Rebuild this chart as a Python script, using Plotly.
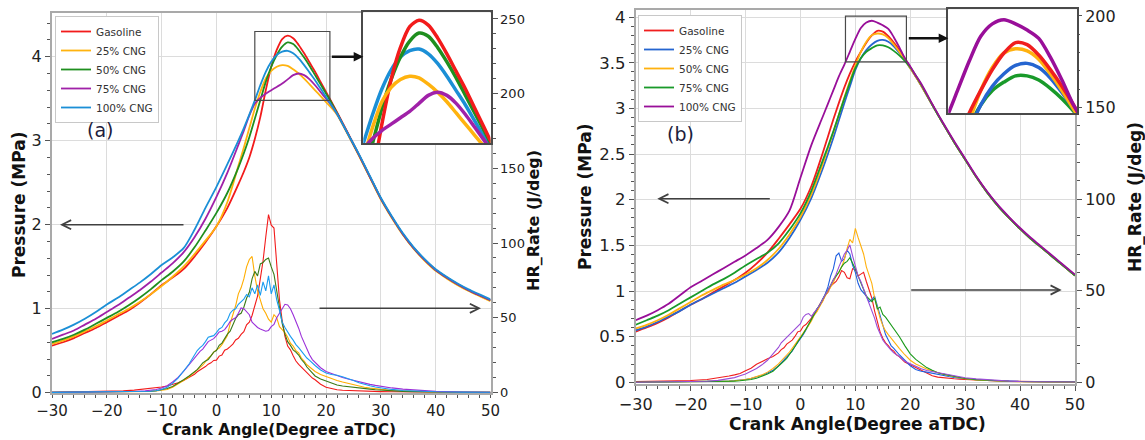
import plotly.graph_objects as go

W, H = 1145, 440
def px(x): return x / W
def py(y): return 1 - y / H

# ---------------- data ----------------
fuels = ["Gasoline", "25% CNG", "50% CNG", "75% CNG", "100% CNG"]

ca_p = [-30, -28, -26, -24, -22, -20, -18, -16, -14, -12, -10, -8, -6, -4, -2,
        0, 2, 4,
        5, 6, 7, 8, 9, 10, 11, 12, 13, 14, 15, 16, 17, 18, 19, 20, 21,
        22, 24, 26, 28, 30, 32, 34, 36, 38, 40, 42, 44, 46, 48, 50]

ca_h = [-30, -25, -20, -17, -15, -13, -12, -11, -10, -9, -8, -7, -6, -5,
        -4, -3.5, -3, -2.5, -2, -1.5, -1, -0.5, 0, 0.5, 1, 1.5, 2, 2.5, 3, 3.5, 4, 4.5, 5, 5.5,
        6, 6.5, 7, 7.5, 8, 8.5, 9, 9.5, 10, 10.5, 11, 11.5, 12, 12.5, 13, 13.5, 14, 14.5, 15, 15.5,
        16, 16.5, 17, 17.5, 18,
        19, 20, 21, 22, 23, 24, 25, 26, 27, 28, 29, 30,
        32, 34, 36, 38, 40, 45, 50]

# Panel (a) pressure, MPa
pa_gasoline = [0.56, 0.60, 0.65, 0.71, 0.77, 0.84, 0.91, 0.98, 1.07, 1.17, 1.28, 1.37, 1.47, 1.62, 1.79,
               1.98, 2.20, 2.48,
               2.63, 2.80, 3.02, 3.28, 3.60, 3.88, 4.08, 4.21, 4.25, 4.22, 4.14, 4.04, 3.93, 3.82, 3.70, 3.58, 3.46,
               3.34, 3.09, 2.83, 2.57, 2.31, 2.09, 1.89, 1.72, 1.58, 1.46, 1.37, 1.29, 1.22, 1.16, 1.10]
pa_cng25 = [0.58, 0.62, 0.67, 0.73, 0.79, 0.86, 0.93, 1.00, 1.08, 1.17, 1.27, 1.38, 1.50, 1.65, 1.81,
            1.98, 2.27, 2.70,
            2.92, 3.15, 3.38, 3.58, 3.74, 3.83, 3.88, 3.90, 3.89, 3.85, 3.80, 3.74, 3.67, 3.60, 3.53, 3.46, 3.39,
            3.31, 3.07, 2.82, 2.56, 2.30, 2.08, 1.88, 1.71, 1.57, 1.45, 1.36, 1.28, 1.21, 1.15, 1.09]
pa_cng50 = [0.60, 0.64, 0.69, 0.75, 0.82, 0.89, 0.96, 1.04, 1.13, 1.23, 1.34, 1.44, 1.56, 1.73, 1.93,
            2.14, 2.38, 2.68,
            2.85, 3.04, 3.26, 3.48, 3.70, 3.88, 4.02, 4.12, 4.17, 4.15, 4.08, 3.99, 3.89, 3.78, 3.67, 3.56, 3.45,
            3.33, 3.08, 2.83, 2.57, 2.31, 2.09, 1.89, 1.72, 1.58, 1.46, 1.37, 1.29, 1.22, 1.16, 1.10]
pa_cng75 = [0.64, 0.69, 0.74, 0.81, 0.88, 0.96, 1.04, 1.13, 1.22, 1.32, 1.43, 1.54, 1.67, 1.85, 2.07,
            2.33, 2.62, 2.95,
            3.12, 3.30, 3.44, 3.51, 3.56, 3.60, 3.64, 3.68, 3.73, 3.78, 3.80, 3.78, 3.73, 3.66, 3.58, 3.50, 3.42,
            3.32, 3.08, 2.83, 2.57, 2.31, 2.09, 1.89, 1.72, 1.58, 1.46, 1.37, 1.29, 1.22, 1.16, 1.10]
pa_cng100 = [0.70, 0.75, 0.81, 0.88, 0.96, 1.05, 1.13, 1.22, 1.31, 1.41, 1.52, 1.61, 1.72, 1.94, 2.20,
             2.45, 2.72, 3.00,
             3.15, 3.31, 3.48, 3.66, 3.82, 3.94, 4.02, 4.06, 4.07, 4.04, 3.98, 3.90, 3.81, 3.72, 3.62, 3.52, 3.42,
             3.32, 3.08, 2.84, 2.58, 2.32, 2.10, 1.90, 1.73, 1.59, 1.47, 1.38, 1.30, 1.23, 1.17, 1.11]

# Panel (a) heat release rate, J/deg
ha_gasoline = [0.1, 0.3, 0.6, 1.0, 1.5, 2.2, 2.6, 3.0, 3.6, 4.3, 5.2, 6.5, 8.0, 10.0,
               12.2, 13.8, 14.9, 16.4, 17.3, 18.9, 19.8, 21.4, 21.6, 24.3, 25.0, 28.2, 29.1, 30.6, 32.3,
               35.1, 36.2, 38.8, 40.6, 45.2, 47.0, 51.5, 58.0, 64.5, 76.0, 88.0, 104.0, 119.0, 112.0, 110.0,
               86.0, 62.0, 48.0, 37.5, 31.0, 28.5, 24.5, 21.0, 18.8, 17.0, 15.0, 12.8, 11.5, 9.6, 8.5,
               5.5, 3.5, 2.4, 1.8, 1.4, 1.2, 1.0, 0.9, 0.8, 0.7, 0.6, 0.5,
               0.4, 0.3, 0.2, 0.2, 0.1, 0.1, 0.0]
ha_cng25 = [0.0, 0.1, 0.2, 0.3, 0.4, 0.6, 0.7, 0.9, 1.2, 2.0, 3.5, 5.5, 8.0, 10.5,
            13.5, 15.6, 17.0, 18.2, 20.5, 23.0, 24.5, 27.0, 28.5, 29.6, 32.0, 35.5, 38.0, 46.0, 52.0,
            58.0, 66.0, 70.0, 76.0, 84.0, 89.0, 91.0, 78.0, 68.0, 62.0, 56.0, 53.0, 49.0, 47.0, 52.0,
            50.0, 44.0, 42.0, 40.0, 37.0, 33.0, 31.0, 28.0, 26.5, 23.0, 21.0, 18.5, 17.0, 15.2, 14.0,
            12.0, 10.5, 9.0, 8.0, 7.0, 6.0, 5.0, 4.2, 3.5, 2.9, 2.4, 2.0,
            1.4, 0.9, 0.6, 0.4, 0.3, 0.1, 0.0]
ha_cng50 = [0.0, 0.1, 0.2, 0.3, 0.4, 0.6, 0.8, 1.1, 1.6, 2.6, 4.0, 6.0, 8.5, 11.0,
            14.0, 15.2, 17.5, 19.8, 21.0, 22.0, 24.5, 27.0, 28.0, 31.5, 33.0, 36.0, 39.0, 41.0, 45.0,
            49.5, 52.0, 53.0, 57.0, 63.0, 67.0, 76.0, 81.0, 78.0, 86.0, 87.0, 89.0, 90.0, 84.0, 79.0,
            68.0, 56.0, 46.0, 39.0, 34.0, 31.5, 28.5, 27.0, 25.0, 22.0, 20.0, 17.0, 15.0, 13.0, 11.0,
            9.0, 7.5, 6.2, 5.0, 4.3, 3.8, 3.3, 3.0, 2.6, 2.2, 1.8, 1.5,
            1.0, 0.7, 0.5, 0.3, 0.2, 0.1, 0.0]
ha_cng75 = [0.0, 0.1, 0.2, 0.4, 0.6, 1.0, 1.3, 2.0, 3.0, 4.5, 7.0, 10.0, 14.0, 18.5,
            23.0, 25.5, 27.5, 29.0, 31.5, 34.0, 35.0, 36.0, 38.0, 40.5, 41.0, 42.0, 44.5, 47.5, 49.0,
            50.0, 53.0, 56.5, 56.0, 54.0, 52.0, 47.0, 45.0, 43.5, 42.5, 41.5, 41.0, 41.5, 44.0, 45.5,
            50.0, 53.0, 56.0, 59.0, 58.5, 56.0, 52.0, 48.0, 43.0, 37.5, 33.0, 28.5, 25.0, 22.0, 20.0,
            16.5, 14.0, 12.5, 11.0, 10.0, 9.0, 8.0, 7.0, 6.2, 5.4, 4.7, 4.0,
            3.0, 2.2, 1.6, 1.1, 0.7, 0.3, 0.1]
ha_cng100 = [0.0, 0.1, 0.2, 0.3, 0.4, 0.6, 0.8, 1.1, 2.0, 3.5, 6.0, 9.5, 14.0, 19.0,
             25.0, 28.0, 30.0, 31.5, 34.0, 37.0, 37.5, 38.0, 40.0, 42.5, 43.5, 46.5, 48.5, 53.0, 55.0,
             56.0, 59.0, 61.0, 62.5, 65.5, 64.0, 70.0, 66.0, 72.0, 65.0, 74.0, 68.0, 78.0, 66.0, 72.0,
             62.0, 55.0, 47.0, 43.5, 40.0, 37.5, 35.0, 32.0, 30.0, 27.5, 25.5, 23.0, 21.5, 19.5, 18.0,
             15.0, 13.0, 12.0, 11.5, 10.5, 9.5, 8.0, 6.5, 5.3, 4.4, 3.6, 3.0,
             2.0, 1.3, 0.9, 0.6, 0.4, 0.2, 0.1]

# Panel (b) pressure, MPa
pb_gasoline = [0.555, 0.60, 0.65, 0.71, 0.78, 0.85, 0.91, 0.98, 1.05, 1.12, 1.20, 1.30, 1.42, 1.57, 1.73,
               1.90, 2.15, 2.50,
               2.69, 2.88, 3.06, 3.23, 3.38, 3.51, 3.62, 3.72, 3.80, 3.85, 3.84, 3.79, 3.72, 3.64, 3.55, 3.45, 3.35,
               3.25, 3.04, 2.83, 2.63, 2.44, 2.25, 2.08, 1.93, 1.80, 1.68, 1.57, 1.47, 1.37, 1.27, 1.17]
pb_cng25 = [0.57, 0.61, 0.66, 0.72, 0.78, 0.85, 0.91, 0.97, 1.03, 1.09, 1.16, 1.23, 1.31, 1.42, 1.58,
            1.78, 2.02, 2.33,
            2.50, 2.68, 2.87, 3.06, 3.24, 3.42, 3.55, 3.64, 3.70, 3.74, 3.75, 3.73, 3.68, 3.61, 3.53, 3.44, 3.35,
            3.25, 3.04, 2.83, 2.63, 2.44, 2.25, 2.08, 1.93, 1.80, 1.68, 1.57, 1.47, 1.37, 1.27, 1.17]
pb_cng50 = [0.59, 0.63, 0.68, 0.74, 0.81, 0.88, 0.95, 1.01, 1.07, 1.12, 1.18, 1.25, 1.34, 1.46, 1.62,
            1.81, 2.06, 2.38,
            2.56, 2.74, 2.93, 3.12, 3.30, 3.47, 3.62, 3.73, 3.80, 3.82, 3.81, 3.77, 3.70, 3.62, 3.53, 3.44, 3.35,
            3.25, 3.04, 2.83, 2.63, 2.44, 2.25, 2.08, 1.93, 1.80, 1.68, 1.57, 1.47, 1.37, 1.27, 1.17]
pb_cng75 = [0.63, 0.68, 0.73, 0.79, 0.86, 0.93, 1.00, 1.07, 1.13, 1.20, 1.28, 1.35, 1.42, 1.52, 1.67,
            1.85, 2.10, 2.42,
            2.58, 2.75, 2.93, 3.11, 3.28, 3.44, 3.55, 3.62, 3.66, 3.69, 3.69, 3.67, 3.63, 3.58, 3.52, 3.45, 3.36,
            3.26, 3.04, 2.83, 2.63, 2.44, 2.25, 2.08, 1.93, 1.80, 1.68, 1.57, 1.47, 1.37, 1.27, 1.17]
pb_cng100 = [0.68, 0.73, 0.79, 0.86, 0.95, 1.04, 1.11, 1.18, 1.25, 1.32, 1.39, 1.47, 1.56, 1.70, 1.88,
             2.24, 2.60, 2.90,
             3.05, 3.20, 3.35, 3.48, 3.62, 3.76, 3.88, 3.94, 3.96, 3.94, 3.91, 3.87, 3.78, 3.67, 3.55, 3.46, 3.36,
             3.27, 3.05, 2.84, 2.64, 2.45, 2.26, 2.09, 1.94, 1.81, 1.69, 1.58, 1.48, 1.38, 1.28, 1.18]

# Panel (b) heat release rate, J/deg
hb_gasoline = [0.3, 0.5, 0.9, 1.5, 2.3, 3.4, 4.0, 4.8, 6.2, 7.6, 9.8, 11.5, 12.8, 14.0,
               16.0, 17.8, 18.8, 20.8, 22.0, 23.0, 25.0, 27.5, 28.0, 30.5, 31.5, 33.0, 35.0, 38.0, 39.0,
               42.5, 44.0, 47.5, 49.0, 52.5, 54.0, 55.0, 57.5, 61.0, 60.0, 57.0, 56.5, 62.0, 61.5, 58.0,
               59.0, 60.0, 55.0, 51.0, 46.0, 39.0, 33.0, 27.5, 24.0, 21.5, 20.0, 18.0, 17.0, 15.0, 14.0,
               11.0, 9.5, 8.0, 6.3, 4.6, 3.5, 2.8, 2.4, 2.1, 1.9, 1.7, 1.5,
               1.2, 0.9, 0.7, 0.5, 0.4, 0.2, 0.1]
hb_cng25 = [0.0, 0.1, 0.2, 0.3, 0.5, 0.7, 0.9, 1.1, 1.5, 2.0, 2.8, 3.8, 5.0, 6.5,
            9.0, 10.5, 12.0, 13.5, 15.5, 17.0, 19.5, 21.5, 23.5, 26.0, 28.5, 31.5, 34.0, 37.0, 40.0,
            42.0, 45.0, 48.0, 52.0, 58.0, 62.0, 69.0, 70.5, 66.0, 67.5, 72.0, 70.0, 64.0, 60.0, 54.0,
            50.5, 49.0, 47.0, 44.0, 45.0, 47.0, 42.0, 36.0, 31.0, 26.0, 23.0, 20.0, 18.5, 16.5, 15.0,
            12.0, 9.0, 7.0, 6.0, 5.5, 4.8, 4.2, 3.6, 3.1, 2.6, 2.2, 1.9,
            1.4, 1.0, 0.7, 0.5, 0.4, 0.2, 0.1]
hb_cng50 = [0.0, 0.1, 0.2, 0.3, 0.4, 0.6, 0.8, 1.0, 1.5, 2.2, 3.0, 4.0, 5.5, 7.5,
            10.0, 11.5, 13.0, 14.5, 16.5, 18.5, 20.5, 22.5, 24.5, 27.0, 29.0, 31.0, 33.5, 36.5, 38.5,
            41.0, 44.0, 47.0, 49.5, 52.5, 54.5, 58.0, 60.0, 63.0, 67.0, 73.0, 78.0, 76.0, 84.0, 79.0,
            74.0, 70.0, 63.0, 59.0, 54.0, 46.0, 40.0, 35.0, 31.0, 28.0, 26.0, 24.0, 22.0, 20.0, 18.5,
            15.0, 12.0, 10.0, 8.5, 7.2, 6.2, 5.2, 4.4, 3.7, 3.0, 2.4, 1.9,
            1.3, 0.9, 0.6, 0.4, 0.3, 0.1, 0.0]
hb_cng75 = [0.0, 0.1, 0.1, 0.2, 0.3, 0.5, 0.6, 0.8, 1.0, 1.5, 2.2, 3.2, 4.5, 6.0,
            8.5, 10.0, 11.5, 13.0, 15.0, 17.0, 19.5, 22.0, 24.0, 26.5, 29.0, 31.5, 34.0, 37.0, 40.0,
            42.0, 45.0, 47.5, 50.0, 53.0, 56.0, 58.0, 60.0, 63.0, 65.0, 66.0, 68.0, 65.0, 62.0, 58.0,
            54.0, 50.0, 47.0, 45.5, 44.0, 46.0, 40.0, 41.0, 37.0, 35.5, 33.5, 31.0, 29.0, 27.0, 25.0,
            20.0, 15.5, 12.5, 10.0, 8.0, 6.5, 5.2, 4.4, 3.7, 3.1, 2.5, 2.0,
            1.4, 1.0, 0.7, 0.5, 0.4, 0.2, 0.1]
hb_cng100 = [0.0, 0.1, 0.3, 0.5, 1.0, 1.8, 2.5, 3.5, 4.5, 6.0, 7.5, 9.5, 12.0, 15.5,
             19.0, 21.5, 23.0, 24.0, 26.0, 27.5, 29.0, 30.5, 32.0, 35.5, 37.0, 37.5, 36.0, 38.0, 40.0,
             42.0, 45.0, 47.5, 50.0, 53.0, 56.0, 59.0, 63.0, 67.0, 70.0, 72.0, 75.0, 69.0, 63.0, 58.0,
             55.0, 51.0, 48.0, 44.0, 40.0, 35.0, 30.0, 26.0, 23.0, 21.0, 19.0, 17.5, 16.0, 15.0, 14.0,
             11.5, 10.0, 8.5, 7.3, 6.4, 5.8, 5.2, 4.6, 4.0, 3.5, 3.0, 2.4,
             1.8, 1.3, 0.9, 0.6, 0.4, 0.2, 0.1]

# zoom windows (inset ranges)
zoom_a_x = [7.0, 20.7]
zoom_a_y = [3.48, 4.30]
zoom_b_x = [8.2, 19.3]
zoom_b_y = [3.51, 4.01]

# ---------------- styles ----------------
col_pa = ["#f21b1b", "#ffb30f", "#1f8f1f", "#a021a8", "#1b8fd6"]
col_ha = ["#f21b1b", "#ffad00", "#3b7a17", "#9b30d9", "#1a9cf0"]
col_pb = ["#f01e1e", "#2565d0", "#ffb10f", "#199a2a", "#990f99"]
col_hb = ["#f01e1e", "#1f5fe0", "#ffb10f", "#1a9a1a", "#9b4dd8"]

pa = [pa_gasoline, pa_cng25, pa_cng50, pa_cng75, pa_cng100]
ha = [ha_gasoline, ha_cng25, ha_cng50, ha_cng75, ha_cng100]
pb = [pb_gasoline, pb_cng25, pb_cng50, pb_cng75, pb_cng100]
hb = [hb_gasoline, hb_cng25, hb_cng50, hb_cng75, hb_cng100]

fig = go.Figure()

# panel (a)
for i, f in enumerate(fuels):
    fig.add_trace(go.Scatter(x=ca_h, y=ha[i], mode="lines", name=f, showlegend=False,
                             line=dict(color=col_ha[i], width=1.1), xaxis="x", yaxis="y2"))
for i, f in enumerate(fuels):
    fig.add_trace(go.Scatter(x=ca_p, y=pa[i], mode="lines", name=f, legend="legend",
                             line=dict(color=col_pa[i], width=1.8, shape="spline", smoothing=0.8),
                             xaxis="x", yaxis="y"))
# panel (b)
for i, f in enumerate(fuels):
    fig.add_trace(go.Scatter(x=ca_h, y=hb[i], mode="lines", name=f, showlegend=False,
                             line=dict(color=col_hb[i], width=1.1), xaxis="x2", yaxis="y4"))
for i, f in enumerate(fuels):
    fig.add_trace(go.Scatter(x=ca_p, y=pb[i], mode="lines", name=f, legend="legend2",
                             line=dict(color=col_pb[i], width=1.8, shape="spline", smoothing=0.8),
                             xaxis="x2", yaxis="y3"))

# insets (white background then thick curves)
fig.add_trace(go.Scatter(x=[zoom_a_x[0], zoom_a_x[1], zoom_a_x[1], zoom_a_x[0], zoom_a_x[0]],
                         y=[zoom_a_y[0], zoom_a_y[0], zoom_a_y[1], zoom_a_y[1], zoom_a_y[0]],
                         fill="toself", fillcolor="white", mode="lines", line=dict(width=0),
                         showlegend=False, hoverinfo="skip", xaxis="x3", yaxis="y5"))
for i in [4, 2, 0, 1, 3]:
    fig.add_trace(go.Scatter(x=ca_p, y=pa[i], mode="lines", showlegend=False,
                             line=dict(color=col_pa[i], width=3.5, shape="spline", smoothing=0.8),
                             xaxis="x3", yaxis="y5"))
fig.add_trace(go.Scatter(x=[zoom_b_x[0], zoom_b_x[1], zoom_b_x[1], zoom_b_x[0], zoom_b_x[0]],
                         y=[zoom_b_y[0], zoom_b_y[0], zoom_b_y[1], zoom_b_y[1], zoom_b_y[0]],
                         fill="toself", fillcolor="white", mode="lines", line=dict(width=0),
                         showlegend=False, hoverinfo="skip", xaxis="x4", yaxis="y6"))
for i in [3, 1, 2, 0, 4]:
    fig.add_trace(go.Scatter(x=ca_p, y=pb[i], mode="lines", showlegend=False,
                             line=dict(color=col_pb[i], width=3.5, shape="spline", smoothing=0.8),
                             xaxis="x4", yaxis="y6"))

FONT = "DejaVu Sans"
LINE = "#a9a9a9"
GRID = "#dcdcdc"
TICKC = "#555555"

def xax(dom, anchor, fsize, tlen):
    return dict(domain=dom, range=[-30, 50], dtick=10, tick0=0, anchor=anchor, automargin=False,
                showgrid=True, gridcolor=GRID, gridwidth=1, zeroline=False,
                showline=True, linecolor=LINE, linewidth=2, mirror=True,
                ticks="outside", ticklen=tlen, tickcolor=TICKC,
                tickfont=dict(family=FONT, size=fsize, color="#222"),
                minor=dict(dtick=2, ticklen=3, tickcolor=TICKC, showgrid=False))

def inset_ax(dom, rng, anchor):
    return dict(domain=dom, range=rng, anchor=anchor, showgrid=False, zeroline=False,
                automargin=False, showticklabels=False, ticks="", showline=True, mirror=True,
                linecolor="#4a4a4a", linewidth=1.5)

layout = dict(
    width=W, height=H, margin=dict(l=0, r=0, t=0, b=0, pad=0, autoexpand=False),
    paper_bgcolor="white", plot_bgcolor="white", showlegend=True,
    xaxis=xax([px(52), px(490.5)], "y", 15, 3),
    yaxis=dict(domain=[py(393), py(13)], range=[-0.004, 4.52], dtick=1, anchor="x", automargin=False,
               showgrid=True, gridcolor=GRID, zeroline=False, showline=True, linecolor=LINE,
               linewidth=2, ticks="outside", ticklen=5, tickcolor=TICKC,
               tickfont=dict(family=FONT, size=16, color="#222"),
               minor=dict(dtick=0.2, ticklen=3, tickcolor=TICKC, showgrid=False)),
    yaxis2=dict(overlaying="y", side="right", anchor="x", range=[-0.4, 254], dtick=50, automargin=False,
                showgrid=False, zeroline=False, showline=True, linecolor=LINE, linewidth=2,
                ticks="outside", ticklen=5, tickcolor=TICKC,
                tickfont=dict(family=FONT, size=13, color="#222"),
                minor=dict(dtick=10, ticklen=3, tickcolor=TICKC, showgrid=False)),
    xaxis2=xax([px(635.7), px(1075)], "y3", 16, 5),
    yaxis3=dict(domain=[py(383.5), py(9.5)], range=[-0.013, 4.083], dtick=0.5, anchor="x2", automargin=False,
                showgrid=True, gridcolor=GRID, zeroline=False, showline=True, linecolor=LINE,
                linewidth=2, ticks="outside", ticklen=5, tickcolor=TICKC,
                tickfont=dict(family=FONT, size=16.5, color="#222"),
                minor=dict(dtick=0.1, ticklen=3, tickcolor=TICKC, showgrid=False)),
    yaxis4=dict(overlaying="y3", side="right", anchor="x2", range=[-0.7, 203.5], dtick=50, automargin=False,
                showgrid=False, zeroline=False, showline=True, linecolor=LINE, linewidth=2,
                ticks="outside", ticklen=5, tickcolor=TICKC,
                tickfont=dict(family=FONT, size=16, color="#222"),
                minor=dict(dtick=10, ticklen=3, tickcolor=TICKC, showgrid=False)),
    xaxis3=inset_ax([px(363.3), px(490.5)], zoom_a_x, "y5"),
    yaxis5=inset_ax([py(143.3), py(12.3)], zoom_a_y, "x3"),
    xaxis4=inset_ax([px(948.3), px(1077)], zoom_b_x, "y6"),
    yaxis6=inset_ax([py(113.3), py(9.3)], zoom_b_y, "x4"),
    legend=dict(x=px(55), y=py(16), xanchor="left", yanchor="top", bgcolor="white",
                bordercolor="#c8c8c8", borderwidth=1, tracegroupgap=0,
                font=dict(family=FONT, size=10.5, color="#333")),
    legend2=dict(x=px(638), y=py(15), xanchor="left", yanchor="top", bgcolor="white",
                 bordercolor="#c8c8c8", borderwidth=1, tracegroupgap=0,
                 font=dict(family=FONT, size=10.5, color="#333")),
)
fig.update_layout(**layout)

# zoom boxes in the main panels
fig.add_shape(type="rect", xref="x", yref="y", x0=zoom_a_x[0], x1=zoom_a_x[1],
              y0=zoom_a_y[0], y1=zoom_a_y[1], line=dict(color="#4a4a4a", width=1.2), layer="above")
fig.add_shape(type="rect", xref="x2", yref="y3", x0=zoom_b_x[0], x1=zoom_b_x[1],
              y0=zoom_b_y[0], y1=zoom_b_y[1], line=dict(color="#4a4a4a", width=1.2), layer="above")

ann = []
def title(text, x, y, size, angle=0):
    ann.append(dict(text="<b>%s</b>" % text, x=px(x), y=py(y), xref="paper", yref="paper",
                    showarrow=False, textangle=angle, xanchor="center", yanchor="middle",
                    font=dict(family=FONT, size=size, color="#111")))
title("Crank Angle(Degree aTDC)", 279, 429.8, 15.5)
title("Crank Angle(Degree aTDC)", 858, 424, 17)
title("Pressure (MPa)", 19, 205, 17, -90)
title("Pressure (MPa)", 584.5, 197.5, 17, -90)
title("HR_Rate (J/deg)", 533, 221, 16, -90)
title("HR_Rate (J/deg)", 1135, 197, 17, -90)

for t, x, y in [("(a)", 100, 130), ("(b)", 680.5, 133.5)]:
    ann.append(dict(text=t, x=px(x), y=py(y), xref="paper", yref="paper", showarrow=False,
                    xanchor="center", yanchor="middle",
                    font=dict(family=FONT, size=19, color="#1c1c3c")))

def arrow(hx, hy, dx, style, width, size, color):
    ann.append(dict(text="", x=px(hx), y=py(hy), xref="paper", yref="paper",
                    ax=dx, ay=0, axref="pixel", ayref="pixel", showarrow=True,
                    arrowhead=style, arrowsize=size, arrowwidth=width, arrowcolor=color))
arrow(363.3, 56.7, -33, 2, 2.4, 0.8, "#111111")
arrow(948.3, 38.3, -41, 2, 2.4, 0.8, "#111111")
arrow(60, 224.7, 125, 5, 1.5, 1.2, "#404040")
arrow(481, 308.3, -163, 5, 1.5, 1.2, "#404040")
arrow(657.3, 198.7, 114, 5, 1.5, 1.2, "#404040")
arrow(1061.7, 290, -152, 5, 1.5, 1.2, "#404040")

fig.update_layout(annotations=ann)
fig.write_html("out.html")
